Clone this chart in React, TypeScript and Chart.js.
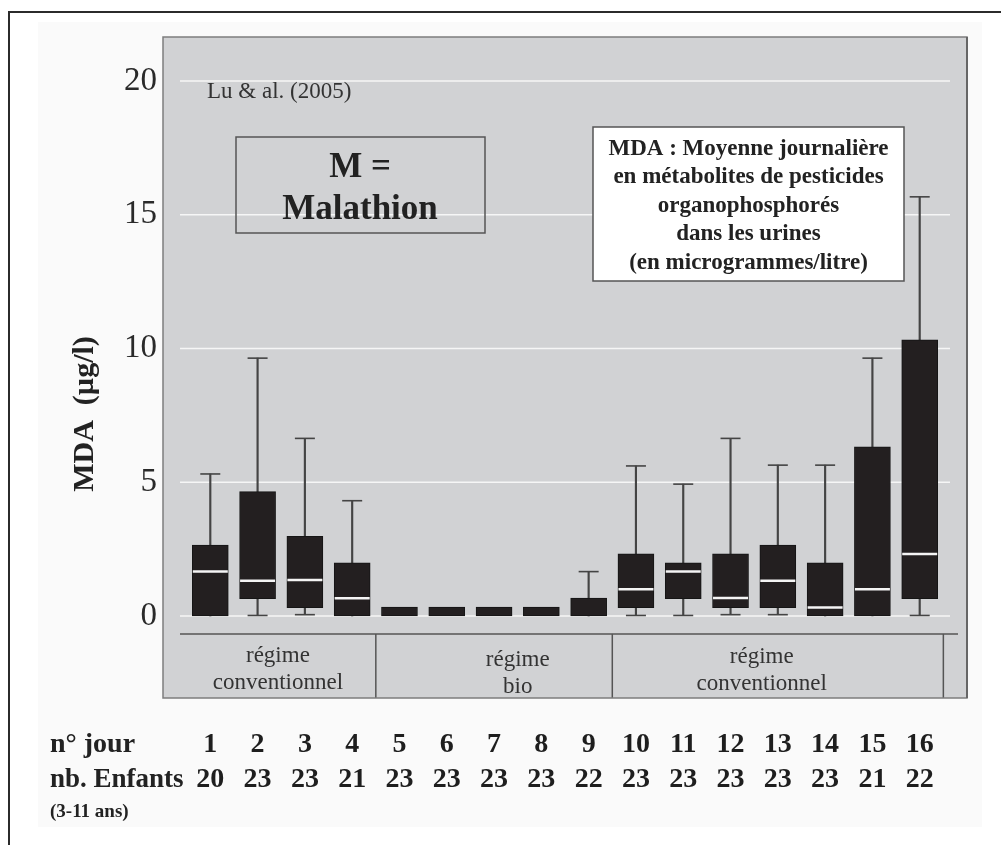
import React, { useEffect, useRef } from 'react';
import { Chart, registerables } from 'chart.js';

Chart.register(...registerables);

// ---- data ----
const days = [1, 2, 3, 4, 5, 6, 7, 8, 9, 10, 11, 12, 13, 14, 15, 16];
const children = [20, 23, 23, 21, 23, 23, 23, 23, 22, 23, 23, 23, 23, 23, 21, 22];
const q1 = [0, 0.65, 0.31, 0, 0, 0, 0, 0, 0, 0.31, 0.65, 0.31, 0.31, 0, 0, 0.65];
const medians: (number | null)[] = [1.66, 1.32, 1.35, 0.66, null, null, null, null, null, 1.0, 1.66, 0.67, 1.32, 0.32, 1.0, 2.32];
const q3 = [2.65, 4.65, 2.98, 1.99, 0.33, 0.33, 0.33, 0.33, 0.67, 2.32, 1.99, 2.32, 2.65, 1.99, 6.32, 10.32];
const whiskerLow: (number | null)[] = [null, 0.02, 0.05, null, null, null, null, null, null, 0.02, 0.02, 0.05, 0.05, null, null, 0.02];
const whiskerHigh: (number | null)[] = [5.31, 9.64, 6.64, 4.31, null, null, null, null, 1.66, 5.61, 4.93, 6.64, 5.64, 5.64, 9.64, 15.67];
const yTicks = [0, 5, 10, 15, 20];
const regimes = [
  { lines: ['régime', 'conventionnel'], center: 2.43, dy: 22 },
  { lines: ['régime', 'bio'], center: 7.5, dy: 26 },
  { lines: ['régime', 'conventionnel'], center: 12.66, dy: 23 },
];
const regimeDividers = [4.5, 9.5, 16.5];
const infoLines = [
  'MDA : Moyenne journalière',
  'en métabolites de pesticides',
  'organophosphorés',
  'dans les urines',
  '(en microgrammes/litre)',
];

const SERIF = '"Liberation Serif", "Times New Roman", serif';

const decor = {
  id: 'decor',
  beforeDraw(chart: any) {
    const { ctx, chartArea: a, scales } = chart;
    const y = scales.y;
    ctx.save();
    ctx.fillStyle = '#ffffff';
    ctx.fillRect(0, 0, chart.width, chart.height);
    ctx.fillStyle = '#fafafa';
    ctx.fillRect(38, 22, 944, 805);
    // outer frame
    ctx.strokeStyle = '#2b2b2b';
    ctx.lineWidth = 2;
    ctx.beginPath();
    ctx.moveTo(9, chart.height);
    ctx.lineTo(9, 12);
    ctx.lineTo(chart.width, 12);
    ctx.stroke();
    // plot background
    ctx.fillStyle = '#d1d2d4';
    ctx.fillRect(a.left, a.top, a.right - a.left, a.bottom - a.top);
    // gridlines
    ctx.strokeStyle = '#f6f6f6';
    ctx.lineWidth = 1.6;
    y.ticks.forEach((t: any) => {
      const py = y.getPixelForValue(t.value);
      ctx.beginPath();
      ctx.moveTo(a.left + 17, py);
      ctx.lineTo(a.right - 17, py);
      ctx.stroke();
    });
    ctx.restore();
  },
  afterDraw(chart: any) {
    const { ctx, chartArea: a, scales } = chart;
    const x = scales.x;
    const y = scales.y;
    ctx.save();
    // regime band
    const sepY = y.getPixelForValue(-0.67);
    ctx.strokeStyle = '#555';
    ctx.lineWidth = 1.5;
    ctx.beginPath();
    ctx.moveTo(a.left + 17, sepY);
    ctx.lineTo(a.right - 9, sepY);
    ctx.stroke();
    regimeDividers.forEach((v) => {
      const px = x.getPixelForValue(v);
      ctx.beginPath();
      ctx.moveTo(px, sepY);
      ctx.lineTo(px, a.bottom);
      ctx.stroke();
    });
    ctx.save();
    ctx.beginPath();
    ctx.rect(a.left, a.top, a.right - a.left, a.bottom - a.top);
    ctx.clip();
    ctx.fillStyle = '#333';
    ctx.font = `23px ${SERIF}`;
    ctx.textAlign = 'center';
    ctx.textBaseline = 'middle';
    regimes.forEach((r) => {
      const px = x.getPixelForValue(r.center);
      r.lines.forEach((l, i) => ctx.fillText(l, px, sepY + r.dy + i * 27));
    });
    ctx.restore();

    // citation
    ctx.fillStyle = '#333';
    ctx.font = `23px ${SERIF}`;
    ctx.textAlign = 'left';
    ctx.textBaseline = 'middle';
    ctx.fillText('Lu & al. (2005)', 207, 92);

    // Malathion box
    ctx.strokeStyle = '#555';
    ctx.lineWidth = 1.5;
    ctx.strokeRect(236, 137, 249, 96);
    ctx.fillStyle = '#222';
    ctx.font = `bold 35px ${SERIF}`;
    ctx.textAlign = 'center';
    ctx.fillText('M =', 360, 168);
    ctx.fillText('Malathion', 360, 210);

    // MDA info box
    ctx.fillStyle = '#ffffff';
    ctx.fillRect(593, 127, 311, 154);
    ctx.strokeRect(593, 127, 311, 154);
    ctx.fillStyle = '#222';
    ctx.font = `bold 23px ${SERIF}`;
    infoLines.forEach((l, i) => ctx.fillText(l, 748.5, 149 + i * 28.5));

    // y title
    ctx.save();
    ctx.translate(85, 414);
    ctx.rotate(-Math.PI / 2);
    ctx.font = `bold 30px ${SERIF}`;
    ctx.fillStyle = '#222';
    ctx.fillText('MDA  (µg/l)', 0, 0);
    ctx.restore();

    // row labels
    ctx.textAlign = 'left';
    ctx.fillStyle = '#222';
    ctx.font = `bold 28px ${SERIF}`;
    ctx.fillText('n° jour', 50, 745);
    ctx.font = `bold 27px ${SERIF}`;
    ctx.fillText('nb. Enfants', 50, 780);
    ctx.font = `bold 19px ${SERIF}`;
    ctx.fillText('(3-11 ans)', 50, 812);

    // plot border
    ctx.strokeStyle = '#7d7d7d';
    ctx.lineWidth = 1.5;
    ctx.strokeRect(a.left, a.top, a.right - a.left, a.bottom - a.top);
    ctx.strokeStyle = '#666';
    ctx.lineWidth = 2;
    ctx.beginPath();
    ctx.moveTo(a.right, a.top);
    ctx.lineTo(a.right, a.bottom);
    ctx.stroke();
    ctx.restore();
  },
};

export default function App() {
  const ref = useRef<HTMLCanvasElement>(null);
  useEffect(() => {
    if (!ref.current) return;
    const chart = new Chart(ref.current, {
      type: 'bar',
      data: {
        datasets: [
          {
            type: 'bar',
            label: 'whisker',
            data: days.map((d, i) => ({
              x: d,
              y: whiskerHigh[i] == null ? null : [whiskerLow[i] ?? q1[i], whiskerHigh[i]],
            })) as any,
            backgroundColor: '#444',
            barThickness: 1.5,
            grouped: false,
            order: 4,
          } as any,
          {
            type: 'bar',
            label: 'box',
            data: days.map((d, i) => ({ x: d, y: [q1[i], q3[i]] })) as any,
            backgroundColor: '#231f20',
            borderColor: '#151515',
            borderWidth: 1,
            borderSkipped: false,
            barThickness: 36,
            grouped: false,
            order: 3,
          } as any,
          {
            type: 'line',
            label: 'capHigh',
            data: days.map((d, i) => ({ x: d, y: whiskerHigh[i] })) as any,
            showLine: false,
            pointStyle: 'line',
            pointRadius: 10,
            pointBorderColor: '#444',
            pointBorderWidth: 1.6,
            order: 2,
          } as any,
          {
            type: 'line',
            label: 'capLow',
            data: days.map((d, i) => ({ x: d, y: whiskerLow[i] })) as any,
            showLine: false,
            pointStyle: 'line',
            pointRadius: 10,
            pointBorderColor: '#444',
            pointBorderWidth: 1.6,
            order: 2,
          } as any,
          {
            type: 'line',
            label: 'median',
            data: days.map((d, i) => ({ x: d, y: medians[i] })) as any,
            showLine: false,
            pointStyle: 'line',
            pointRadius: 17.5,
            pointBorderColor: '#f4f4f4',
            pointBorderWidth: 2.5,
            order: 1,
          } as any,
        ],
      },
      options: {
        animation: false,
        responsive: false,
        devicePixelRatio: 1,
        events: [],
        layout: { padding: { left: 0, right: 34, top: 37, bottom: 0 } },
        plugins: { legend: { display: false }, tooltip: { enabled: false } },
        scales: {
          x: {
            type: 'linear',
            min: 0,
            max: 17,
            offset: false,
            grid: { display: false, drawTicks: false },
            border: { display: false },
            afterBuildTicks: (axis: any) => {
              axis.ticks = days.map((d) => ({ value: d }));
            },
            afterFit: (scale: any) => {
              scale.height = 147;
            },
            ticks: {
              autoSkip: false,
              maxRotation: 0,
              minRotation: 0,
              padding: 29.5,
              color: '#1e1e1e',
              font: { family: SERIF, size: 28, weight: 'bold', lineHeight: 1.25 },
              callback: (v: any) => {
                const i = days.indexOf(Number(v));
                return i < 0 ? '' : [String(days[i]), String(children[i])];
              },
            },
          },
          y: {
            type: 'linear',
            min: -3.065,
            max: 21.645,
            grid: { display: false, drawTicks: false },
            border: { display: false },
            afterBuildTicks: (axis: any) => {
              axis.ticks = yTicks.map((v) => ({ value: v }));
            },
            afterFit: (scale: any) => {
              scale.width = 163;
            },
            ticks: {
              padding: 6,
              color: '#2a2a2a',
              font: { family: SERIF, size: 33 },
              callback: (v: any) => String(v),
            },
          },
        },
      } as any,
      plugins: [decor],
    });
    return () => chart.destroy();
  }, []);
  return (
    <div style={{ position: 'absolute', left: 0, top: 0, width: 1001, height: 845 }}>
      <canvas ref={ref} width={1001} height={845} style={{ display: 'block' }} />
    </div>
  );
}
